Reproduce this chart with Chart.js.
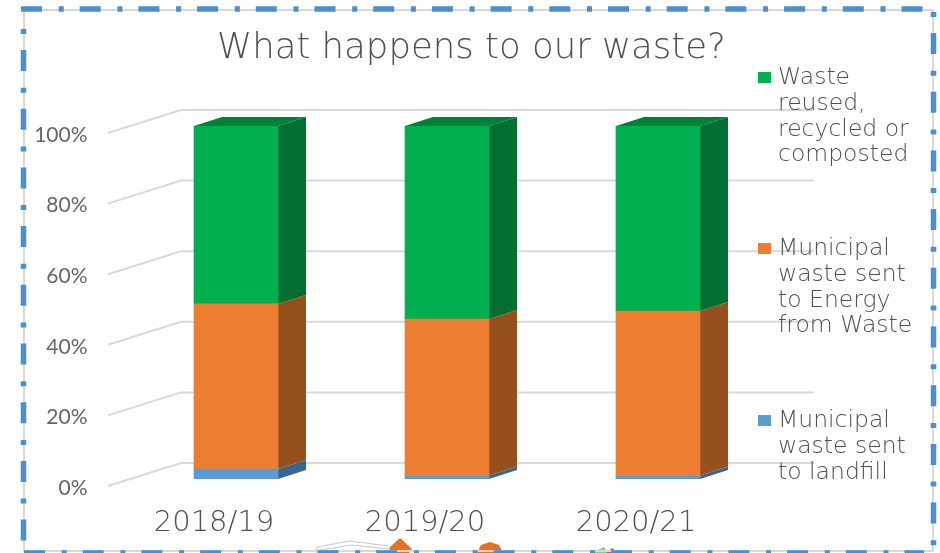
<!DOCTYPE html>
<html>
<head>
<meta charset="utf-8">
<title>What happens to our waste?</title>
<script src="https://cdn.jsdelivr.net/npm/chart.js@4"></script>
<style>
  html, body { margin: 0; padding: 0; background: #fff; }
  canvas { display: block; }
</style>
</head>
<body>
<canvas id="wasteChart" width="940" height="553"></canvas>
<script>
const titleText = "What happens to our waste?";
const years = ["2018/19", "2019/20", "2020/21"];

// percentages
const landfill = [2.8, 1, 1];
const energyFromWaste = [46.8, 44.3, 46.6];
const recycled = [50.4, 54.7, 52.4];

const landfillLegend = ["Municipal", "waste sent", "to landfill"];
const energyLegend = ["Municipal", "waste sent", "to Energy", "from Waste"];
const recycledLegend = ["Waste", "reused,", "recycled or", "composted"];

const textColor = "#505050";
const gridColor = "#d9d9d9";
const borderBlue = "#4a8fd0";

function sideLine(ctx, x1, y1, x2, y2, offset) {
  ctx.lineDashOffset = offset;
  ctx.beginPath();
  ctx.moveTo(x1, y1);
  ctx.lineTo(x2, y2);
  ctx.stroke();
}

function shape(ctx, color, pts) {
  ctx.fillStyle = color;
  ctx.beginPath();
  pts.forEach((p, i) => (i ? ctx.lineTo(p[0], p[1]) : ctx.moveTo(p[0], p[1])));
  ctx.closePath();
  ctx.fill();
}

// outer frame: grey rectangle with blue dash-dot on top of it
// plus the bits of clip art poking up from below the frame
const framePlugin = {
  id: "frame",
  beforeDraw(chart) {
    const ctx = chart.ctx;
    ctx.save();
    ctx.fillStyle = "#fff";
    ctx.fillRect(0, 0, chart.width, chart.height);

    ctx.strokeStyle = "#c8c8c8";
    ctx.lineWidth = 1;
    ctx.beginPath();
    ctx.moveTo(316, 553);
    ctx.lineTo(317, 547);
    ctx.lineTo(350, 541);
    ctx.lineTo(388, 546);
    ctx.moveTo(320, 550);
    ctx.lineTo(352, 545);
    ctx.lineTo(388, 549);
    ctx.stroke();
    shape(ctx, "#e8701f", [[389, 548], [400, 538], [412, 549], [409, 553], [392, 553]]);
    shape(ctx, "#e8701f", [[477, 553], [481, 545], [490, 542], [499, 545], [503, 553]]);
    shape(ctx, "#8fc79a", [[591, 553], [604, 547], [608, 553]]);
    shape(ctx, "#d9574a", [[606, 553], [612, 548], [619, 553]]);

    ctx.strokeStyle = gridColor;
    ctx.lineWidth = 2;
    ctx.strokeRect(24, 10, 909, 541);
    ctx.strokeStyle = borderBlue;
    ctx.lineWidth = 5.5;
    ctx.setLineDash([21, 16.7, 5, 16]);
    sideLine(ctx, 21, 9, 924, 9, 0);
    sideLine(ctx, 933.5, 12, 933.5, 550, 37.7);
    sideLine(ctx, 24, 553, 924, 553, 0);
    sideLine(ctx, 23.5, 29, 23.5, 545, 37.7);
    ctx.restore();
  },
};

// back wall gridlines and the slanted floor lines to the tick labels
const wallPlugin = {
  id: "wall",
  beforeDatasetsDraw(chart) {
    const ctx = chart.ctx;
    const yScale = chart.scales.y;
    ctx.save();
    ctx.strokeStyle = gridColor;
    ctx.lineWidth = 2;
    yScale.ticks.forEach((tick) => {
      const y = yScale.getPixelForValue(tick.value);
      ctx.beginPath();
      ctx.moveTo(108, y + 7);
      ctx.lineTo(181, y - 16);
      ctx.lineTo(814, y - 16);
      ctx.stroke();
    });
    ctx.restore();
  },
};

// fake 3d: side and top faces for each stacked bar
const depthX = 28;
const depthY = 9;
const depthPlugin = {
  id: "depth",
  beforeDatasetsDraw(chart) {
    const ctx = chart.ctx;
    ctx.save();
    chart.data.datasets.forEach((ds, i) => {
      chart.getDatasetMeta(i).data.forEach((bar) => {
        const left = bar.x - bar.width / 2;
        const right = bar.x + bar.width / 2;
        shape(ctx, ds.sideColor, [
          [right, bar.y],
          [right + depthX, bar.y - depthY],
          [right + depthX, bar.base - depthY],
          [right, bar.base],
        ]);
        if (ds.topColor) {
          shape(ctx, ds.topColor, [
            [left, bar.y],
            [left + depthX, bar.y - depthY],
            [right + depthX, bar.y - depthY],
            [right, bar.y],
          ]);
        }
      });
    });
    ctx.restore();
  },
};

// title and legend sit outside the plot, at fixed spots
const legendRows = [421, 249, 78];
const textPlugin = {
  id: "sideText",
  afterDraw(chart) {
    const ctx = chart.ctx;
    ctx.save();
    ctx.fillStyle = textColor;
    ctx.font = "200 35.5px 'DejaVu Sans'";
    ctx.textAlign = "center";
    ctx.textBaseline = "middle";
    ctx.fillText(titleText, 471.5, 49);
    ctx.textAlign = "left";
    chart.data.datasets.forEach((ds, i) => {
      const top = legendRows[i];
      ctx.fillStyle = ds.backgroundColor;
      ctx.fillRect(758, top - 6, 13, 11);
      ctx.fillStyle = textColor;
      ctx.font = "200 23.5px 'DejaVu Sans'";
      ds.legendLines.forEach((line, n) => {
        ctx.fillText(line, 778, top + n * 25.7);
      });
    });
    ctx.restore();
  },
};

new Chart(document.getElementById("wasteChart"), {
  type: "bar",
  data: {
    labels: years,
    datasets: [
      {
        label: "Municipal waste sent to landfill",
        data: landfill,
        backgroundColor: "#5b9bd5",
        sideColor: "#39658f",
        legendLines: landfillLegend,
      },
      {
        label: "Municipal waste sent to Energy from Waste",
        data: energyFromWaste,
        backgroundColor: "#ed7d31",
        sideColor: "#96501e",
        legendLines: energyLegend,
      },
      {
        label: "Waste reused, recycled or composted",
        data: recycled,
        backgroundColor: "#00b050",
        sideColor: "#006f31",
        topColor: "#008038",
        legendLines: recycledLegend,
      },
    ],
  },
  options: {
    responsive: false,
    animation: false,
    barThickness: 84,
    layout: { padding: { left: 0, right: 176.5, top: 126, bottom: 0 } },
    plugins: {
      legend: { display: false },
      tooltip: { enabled: false },
      title: { display: false },
    },
    scales: {
      x: {
        stacked: true,
        grid: { display: false },
        border: { display: false },
        ticks: {
          color: textColor,
          font: { family: "DejaVu Sans", size: 29, weight: "200" },
          padding: 19,
          labelOffset: -22,
          maxRotation: 0,
          autoSkip: false,
        },
        afterFit(scale) {
          scale.height = 74;
        },
      },
      y: {
        stacked: true,
        min: 0,
        max: 100,
        grid: { display: false },
        border: { display: false },
        ticks: {
          stepSize: 20,
          color: "#666666",
          font: { family: "Lato", size: 21 },
          padding: 35,
          labelOffset: 9,
          callback: (v) => v + "%",
        },
        afterFit(scale) {
          scale.width = 130.5;
        },
      },
    },
  },
  plugins: [framePlugin, wallPlugin, depthPlugin, textPlugin],
});
</script>
</body>
</html>
